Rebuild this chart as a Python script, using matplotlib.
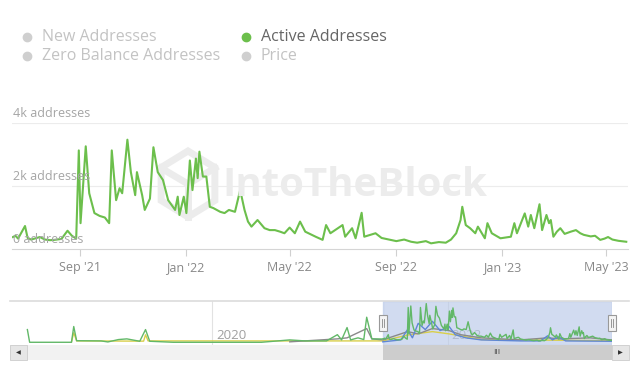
import numpy as np
import pandas as pd
import matplotlib
matplotlib.use("Agg")
import matplotlib.pyplot as plt
from matplotlib.lines import Line2D
from matplotlib.patches import Rectangle, Polygon

plt.rcParams['font.family'] = ['Open Sans', 'DejaVu Sans']

# main series: Active Addresses
active_dates = ["2021-06-16", "2021-06-19", "2021-06-22", "2021-06-30", "2021-07-03", "2021-07-07", "2021-07-11",
                "2021-07-17", "2021-07-23", "2021-07-29",
                "2021-08-03", "2021-08-11", "2021-08-18", "2021-08-23", "2021-08-28", "2021-08-31",
                "2021-09-02", "2021-09-08", "2021-09-12", "2021-09-18", "2021-09-24", "2021-09-30",
                "2021-10-05", "2021-10-08", "2021-10-13", "2021-10-17", "2021-10-20", "2021-10-26", "2021-10-30",
                "2021-11-04", "2021-11-06", "2021-11-12", "2021-11-15", "2021-11-21", "2021-11-25", "2021-11-30",
                "2021-12-06", "2021-12-12", "2021-12-20", "2021-12-23", "2021-12-25", "2021-12-30",
                "2022-01-02", "2022-01-06", "2022-01-09", "2022-01-13", "2022-01-15", "2022-01-17",
                "2022-01-21", "2022-01-25", "2022-01-29",
                "2022-02-02", "2022-02-06", "2022-02-10", "2022-02-15", "2022-02-20", "2022-02-27",
                "2022-03-05", "2022-03-10", "2022-03-14", "2022-03-18", "2022-03-25", "2022-03-30",
                "2022-04-02", "2022-04-08", "2022-04-14", "2022-04-20", "2022-04-25",
                "2022-05-01", "2022-05-07", "2022-05-13", "2022-05-19", "2022-05-31",
                "2022-06-08", "2022-06-12", "2022-06-17", "2022-07-01", "2022-07-04", "2022-07-12",
                "2022-07-16", "2022-07-23", "2022-07-26",
                "2022-08-08", "2022-08-15", "2022-08-25", "2022-09-01", "2022-09-10", "2022-09-18",
                "2022-09-25", "2022-10-05", "2022-10-11", "2022-10-20", "2022-10-28", "2022-11-03",
                "2022-11-09", "2022-11-14", "2022-11-16", "2022-11-20", "2022-11-25",
                "2022-12-01", "2022-12-04", "2022-12-12", "2022-12-15", "2022-12-20", "2022-12-30",
                "2023-01-11", "2023-01-15", "2023-01-18", "2023-01-24", "2023-01-27", "2023-01-31",
                "2023-02-03", "2023-02-07", "2023-02-13", "2023-02-16", "2023-02-21", "2023-02-24", "2023-02-26",
                "2023-03-01", "2023-03-05", "2023-03-09", "2023-03-14", "2023-03-21", "2023-03-27",
                "2023-04-01", "2023-04-05", "2023-04-13", "2023-04-18", "2023-04-24", "2023-04-29",
                "2023-05-03", "2023-05-08", "2023-05-15", "2023-05-24"]
active_values = [380, 420, 330, 730, 350, 300, 330,
                 380, 300, 280,
                 290, 320, 580, 420, 330, 3130,
                 820, 3260, 1770, 1140, 1050, 1000,
                 820, 3130, 1550, 1930, 1770, 3470, 2440,
                 1710, 2440, 1710, 1240, 1600, 3230, 2440,
                 2190, 1550, 1240, 1660, 1080, 1660,
                 1140, 2810, 1870, 2870, 2250, 3090,
                 2300, 2300, 1340,
                 1300, 1240, 1180, 1140, 1240, 1180,
                 1870, 1240, 870, 710, 920, 760,
                 660, 600, 600, 550, 500,
                 680, 500, 870, 550, 390,
                 290, 760, 500, 760, 390, 660,
                 340, 1150, 390,
                 500, 350, 290, 250, 300, 230,
                 200, 250, 180, 220, 200, 300,
                 500, 920, 1340, 760, 660,
                 500, 710, 340, 820, 500, 340,
                 390, 820, 500, 920, 1130, 710,
                 1080, 660, 1420, 600, 1080, 820, 920,
                 390, 550, 660, 480, 550, 600,
                 500, 450, 400, 420, 290, 330,
                 380, 300, 260, 230]

# navigator: earlier history of active addresses
hist_dates = ["2018-06-05", "2018-06-12", "2018-10-20", "2018-10-27", "2018-11-05", "2019-01-20",
              "2019-02-10", "2019-03-15", "2019-04-10", "2019-05-20", "2019-06-07", "2019-06-20",
              "2019-09-01", "2020-06-01", "2020-08-28", "2020-10-15", "2020-12-20", "2021-01-23",
              "2021-02-05", "2021-02-22", "2021-03-05", "2021-03-28", "2021-04-15", "2021-04-24",
              "2021-05-10", "2021-06-10"]
hist_values = [1180, 60, 60, 1450, 200, 180, 90, 300, 360, 150, 1180, 150,
               60, 60, 270, 180, 180, 730, 270, 1360, 270, 450, 300, 2270, 360, 350]

new_dates = ["2021-06-13", "2021-08-08", "2021-08-29", "2021-09-13", "2021-10-01", "2021-10-23",
             "2021-11-14", "2021-12-08", "2022-01-05", "2022-01-24", "2022-02-26", "2022-04-15",
             "2022-08-15", "2022-10-16", "2022-11-07", "2022-11-22", "2022-12-11", "2023-01-02", "2023-05-24"]
new_values = [100, 270, 1180, 450, 1730, 1180, 1910, 1090, 1450, 730, 450, 270,
              180, 180, 630, 270, 540, 180, 150]

zero_dates = ["2020-08-28", "2021-01-23", "2021-02-22", "2021-04-24", "2021-05-10", "2021-06-13",
              "2021-08-29", "2021-10-01", "2021-11-14", "2022-01-05", "2022-02-10", "2022-04-15",
              "2022-08-15", "2022-11-07", "2022-12-18", "2023-03-20", "2023-05-24"]
zero_values = [100, 360, 450, 1270, 360, 270, 1000, 800, 1270, 1090, 730, 450,
               270, 450, 360, 450, 270]

price_dates = ["2018-10-20", "2018-10-27", "2018-11-05", "2019-06-01", "2019-06-07", "2019-06-15",
               "2020-09-30", "2021-06-13", "2021-08-29", "2021-11-14", "2022-01-05", "2022-04-15",
               "2023-05-24"]
price_values = [90, 900, 180, 160, 720, 180, 180, 180, 700, 1000, 800, 300, 200]

tick_dates = ["2021-09-01", "2022-01-01", "2022-05-01", "2022-09-01", "2023-01-01", "2023-05-01"]
tick_labels = ["Sep '21", "Jan '22", "May '22", "Sep '22", "Jan '23", "May '23"]

green = "#6cbf4c"
fig = plt.figure(figsize=(6.4, 3.82), dpi=100)
W, H = 640, 382


def fx(px):
    return px / W


def fy(py):
    return 1 - py / H


# legend
legend_items = [("New Addresses", 27, 37, "#cfcfcf", "#c3c3c3"),
                ("Zero Balance Addresses", 27, 56, "#cfcfcf", "#c3c3c3"),
                ("Active Addresses", 246, 37, green, "#666666"),
                ("Price", 246, 56, "#cfcfcf", "#c3c3c3")]
for name, x0, y0, mc, tc in legend_items:
    fig.add_artist(Line2D([fx(x0)], [fy(y0)], marker="o", ms=6, color=mc, transform=fig.transFigure))
    fig.text(fx(x0 + 15), fy(y0), name, color=tc, fontsize=11.5, va="center", ha="left")

# watermark: logo + name
ang = np.deg2rad(np.arange(90, 450, 60))
hexagon = [(fx(188 + 31 * np.cos(a)), fy(184 - 33 * np.sin(a))) for a in ang]
fig.add_artist(Polygon(hexagon, closed=True, facecolor="none", edgecolor="#ececec", lw=5,
                       transform=fig.transFigure, zorder=0))
fig.add_artist(Line2D([fx(188), fx(188)], [fy(184), fy(217)], color="#ececec", lw=5,
                      transform=fig.transFigure, zorder=0))
fig.add_artist(Line2D([fx(161), fx(188), fx(215)], [fy(168), fy(184), fy(168)], color="#ececec", lw=5,
                      transform=fig.transFigure, zorder=0))
fig.text(fx(222), fy(186), "IntoTheBlock", fontsize=29, fontweight="bold", color="#ececec",
         ha="left", va="center", zorder=0)

# main chart
ax = fig.add_axes([fx(12), fy(249), fx(628) - fx(12), fy(123) - fy(249)])
ax.set_facecolor("none")
ax.plot(pd.to_datetime(active_dates), active_values, color=green, lw=1.5, zorder=3, solid_joinstyle="round")
ax.set_xlim(pd.Timestamp("2021-06-15"), pd.Timestamp("2023-05-26"))
ax.set_ylim(0, 4000)
for s in ["top", "right", "left"]:
    ax.spines[s].set_visible(False)
ax.spines["bottom"].set_color("#d5d5d5")
ax.set_yticks([])
for v in [2000, 4000]:
    ax.axhline(v, color="#ececec", lw=0.8, zorder=0)
for v, lab in [(0, "0 addresses"), (2000, "2k addresses"), (4000, "4k addresses")]:
    ax.annotate(lab, xy=(0, v), xycoords=("axes fraction", "data"), xytext=(1, 2),
                textcoords="offset points", fontsize=9, color="#a5a5a5", va="bottom", ha="left", zorder=4)
ax.set_xticks(pd.to_datetime(tick_dates))
ax.set_xticklabels(tick_labels)
ax.tick_params(axis="x", colors="#d0d0d0", length=5, width=0.8, labelcolor="#888888", labelsize=9, pad=4)

# navigator
nav = fig.add_axes([fx(10), fy(345), fx(612) - fx(10), fy(301) - fy(345)])
nav.set_xlim(pd.Timestamp("2018-04-12"), pd.Timestamp("2023-05-26"))
nav.set_ylim(-180, 3700)
nav.axis("off")
nav.plot(pd.to_datetime(price_dates), price_values, color="#d9cf4a", lw=1.0, zorder=2)
nav.plot(pd.to_datetime(zero_dates), zero_values, color="#8a8a8a", lw=1.0, zorder=2)
nav.plot(pd.to_datetime(new_dates), new_values, color="#5f86d6", lw=1.0, zorder=2)
nav.plot(pd.to_datetime(hist_dates + active_dates), hist_values + active_values, color="#62b868", lw=1.0, zorder=3)
for yr in ["2020-01-01", "2022-01-01"]:
    nav.axvline(pd.Timestamp(yr), color="#e2e2e2", lw=0.8, zorder=0)
nav.text(pd.Timestamp("2020-01-12"), 650, "2020", fontsize=9.5, color="#a0a0a0", va="center", zorder=1)
nav.text(pd.Timestamp("2022-01-12"), 650, "2022", fontsize=9.5, color="#a0a0a0", va="center", zorder=1)
nav.axvspan(pd.Timestamp("2021-06-15"), pd.Timestamp("2023-05-26"), color="#b9c9e8", alpha=0.65, zorder=1)
fig.add_artist(Line2D([fx(10), fx(629)], [fy(301), fy(301)], color="#dcdcdc", lw=1.2, transform=fig.transFigure))

# handles
for hx in [383, 612]:
    fig.add_artist(Rectangle((fx(hx - 4), fy(331)), fx(8), fy(315) - fy(331), facecolor="#f4f4f4",
                             edgecolor="#999999", lw=0.8, transform=fig.transFigure, zorder=5))
    for dx in [-1.2, 1.2]:
        fig.add_artist(Line2D([fx(hx + dx), fx(hx + dx)], [fy(319), fy(327)], color="#888888", lw=0.6,
                              transform=fig.transFigure, zorder=6))

# scrollbar
fig.add_artist(Rectangle((fx(10), fy(360)), fx(619), fy(345) - fy(360), facecolor="#f2f2f2",
                         edgecolor="none", transform=fig.transFigure))
fig.add_artist(Rectangle((fx(383), fy(360)), fx(229), fy(345) - fy(360), facecolor="#cdcdcd",
                         edgecolor="none", transform=fig.transFigure))
for bx in [10, 612]:
    fig.add_artist(Rectangle((fx(bx), fy(360)), fx(17), fy(345) - fy(360), facecolor="#e6e6e6",
                             edgecolor="#cccccc", lw=0.6, transform=fig.transFigure))
fig.text(fx(18.5), fy(352.5), "◀", fontsize=4.5, color="#333333", ha="center", va="center")
fig.text(fx(620.5), fy(352.5), "▶", fontsize=4.5, color="#333333", ha="center", va="center")
fig.text(fx(497), fy(352), "III", fontsize=6, color="#444444", ha="center", va="center")

fig.savefig("out.png", dpi=100)
